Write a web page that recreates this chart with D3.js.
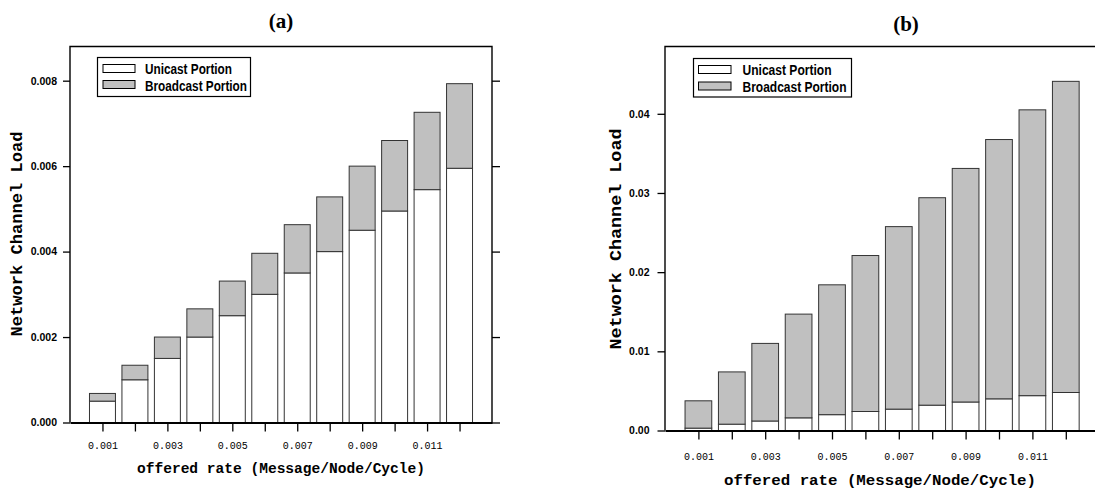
<!DOCTYPE html>
<html lang="en">
<head>
<meta charset="UTF-8">
<title>Network Channel Load</title>
<script src="https://d3js.org/d3.v7.min.js"></script>
<style>
  body { margin: 0; background: #fff; }
  svg { display: block; }
</style>
</head>
<body>
<div id="chart"></div>
<script>
// offered rates (Message/Node/Cycle)
const rates = [0.001, 0.002, 0.003, 0.004, 0.005, 0.006, 0.007, 0.008, 0.009, 0.010, 0.011, 0.012];
const xTickLabels = ["0.001", "0.003", "0.005", "0.007", "0.009", "0.011"];

// panel (a)
const unicastA   = [0.0005, 0.0010, 0.0015, 0.0020, 0.0025, 0.0030, 0.0035, 0.0040, 0.0045, 0.00495, 0.00545, 0.00595];
const broadcastA = [0.00018, 0.00034, 0.0005, 0.00066, 0.00081, 0.00096, 0.00113, 0.00128, 0.0015, 0.00165, 0.00181, 0.00198];
const yTicksA = [0, 0.002, 0.004, 0.006, 0.008];

// panel (b)
const unicastB   = [0.0003, 0.0008, 0.0012, 0.0016, 0.0020, 0.0024, 0.0027, 0.0032, 0.0036, 0.0040, 0.0044, 0.0048];
const broadcastB = [0.00345, 0.0066, 0.0098, 0.0131, 0.0164, 0.0197, 0.02305, 0.0262, 0.0295, 0.03275, 0.0361, 0.0393];
const yTicksB = [0, 0.01, 0.02, 0.03, 0.04];

const legendLabels = ["Unicast Portion", "Broadcast Portion"];

const svg = d3.select("#chart").append("svg")
    .attr("width", 1095)
    .attr("height", 490);

function drawPanel(p) {
    const x = d3.scaleLinear().domain([0, 0.013]).range([p.left, p.right]);
    const y = d3.scaleLinear().domain([0, p.yMax]).range([p.bottom, p.top]);
    const step = x(0.001) - x(0);
    const bw = step * 0.8;
    const g = svg.append("g");

    // bars: unicast at the bottom, broadcast stacked on top
    const rows = rates.map((r, i) => ({ r: r, u: p.unicast[i], b: p.broadcast[i] }));
    g.selectAll("rect.uni").data(rows).join("rect")
        .attr("class", "uni")
        .attr("x", d => x(d.r) - bw / 2)
        .attr("width", bw)
        .attr("y", d => y(d.u))
        .attr("height", d => y(0) - y(d.u))
        .attr("fill", "#fff")
        .attr("stroke", "#333")
        .attr("stroke-width", 1);
    g.selectAll("rect.bc").data(rows).join("rect")
        .attr("class", "bc")
        .attr("x", d => x(d.r) - bw / 2)
        .attr("width", bw)
        .attr("y", d => y(d.u + d.b))
        .attr("height", d => y(d.u) - y(d.u + d.b))
        .attr("fill", "#c0c0c0")
        .attr("stroke", "#333")
        .attr("stroke-width", 1);

    // frame (top, left, right)
    g.append("path")
        .attr("d", `M${p.left},${p.bottom}V${p.top}H${p.right}V${p.bottom}`)
        .attr("fill", "none")
        .attr("stroke", "#000")
        .attr("stroke-width", 1.4);

    // y axis
    const ya = g.append("g")
        .attr("transform", `translate(${p.left},0)`)
        .call(d3.axisLeft(y).tickValues(p.yTicks).tickFormat(d3.format(p.yFmt))
            .tickSize(p.yTickLen).tickPadding(p.yPad));
    ya.select(".domain").remove();
    ya.selectAll("line").attr("stroke-width", 1.3);
    ya.selectAll("text")
        .attr("font-family", "'Liberation Sans', Arial, sans-serif")
        .attr("font-weight", "bold")
        .attr("font-size", p.yFont)
        .attr("fill", "#000");

    if (p.rightTicks) {
        const yr = g.append("g")
            .attr("transform", `translate(${p.right},0)`)
            .call(d3.axisRight(y).tickValues(p.yTicks).tickFormat("").tickSize(8));
        yr.select(".domain").remove();
        yr.selectAll("line").attr("stroke-width", 1.3);
    }

    // x axis
    const xa = g.append("g")
        .attr("transform", `translate(0,${p.bottom})`)
        .call(d3.axisBottom(x).tickValues(rates)
            .tickFormat(d => {
                const s = d3.format(".3f")(d);
                return xTickLabels.includes(s) ? s : "";
            })
            .tickSize(9).tickSizeOuter(0).tickPadding(p.xPad));
    xa.select(".domain").attr("stroke-width", 2.2);
    xa.selectAll("line").attr("stroke-width", 1.3);
    xa.selectAll("text")
        .attr("font-family", "'Liberation Mono', 'Courier New', monospace")
        .attr("font-size", 10)
        .attr("fill", "#000");

    // axis titles
    g.append("text")
        .attr("x", p.xTitleX)
        .attr("y", p.xTitleY)
        .attr("text-anchor", "middle")
        .attr("font-family", "'Liberation Mono', 'Courier New', monospace")
        .attr("font-weight", "bold")
        .attr("font-size", p.xTitleFont)
        .attr("textLength", p.xTitleLen)
        .attr("lengthAdjust", "spacingAndGlyphs")
        .text("offered rate (Message/Node/Cycle)");

    g.append("text")
        .attr("transform", `translate(${p.yTitleX},${p.yTitleY}) rotate(-90)`)
        .attr("text-anchor", "middle")
        .attr("font-family", "'Liberation Mono', 'Courier New', monospace")
        .attr("font-weight", "bold")
        .attr("font-size", p.yTitleFont)
        .attr("textLength", p.yTitleLen)
        .attr("lengthAdjust", "spacingAndGlyphs")
        .text("Network Channel Load");

    // panel title
    g.append("text")
        .attr("x", p.titleX)
        .attr("y", p.titleY)
        .attr("text-anchor", "middle")
        .attr("font-family", "'Liberation Serif', 'Times New Roman', serif")
        .attr("font-weight", "bold")
        .attr("font-size", 21)
        .text(p.title);

    // legend
    const L = p.legend;
    g.append("rect")
        .attr("x", L.x).attr("y", L.y).attr("width", L.w).attr("height", L.h)
        .attr("fill", "#fff").attr("stroke", "#000").attr("stroke-width", 1.2);
    legendLabels.forEach((lab, i) => {
        g.append("rect")
            .attr("x", L.sx).attr("y", L.sy[i]).attr("width", L.sw).attr("height", L.sh)
            .attr("fill", i === 0 ? "#fff" : "#c0c0c0")
            .attr("stroke", "#000").attr("stroke-width", 1);
        g.append("text")
            .attr("x", L.tx).attr("y", L.ty[i])
            .attr("font-family", "'Liberation Sans', Arial, sans-serif")
            .attr("font-weight", "bold")
            .attr("font-size", 14)
            .attr("textLength", L.tl[i])
            .attr("lengthAdjust", "spacingAndGlyphs")
            .text(lab);
    });
}

drawPanel({
    title: "(a)", titleX: 281, titleY: 28,
    left: 70, right: 492, top: 46.5, bottom: 422.5, yMax: 0.0088,
    unicast: unicastA, broadcast: broadcastA,
    yTicks: yTicksA, yFmt: ".3f", yTickLen: 7, yPad: 6, yFont: 10.5,
    rightTicks: true, xPad: 10,
    xTitleX: 281, xTitleY: 473, xTitleFont: 14.5, xTitleLen: 288,
    yTitleX: 21.5, yTitleY: 234, yTitleFont: 16, yTitleLen: 205,
    legend: { x: 97.5, y: 57.5, w: 153, h: 39, sx: 103, sw: 32, sh: 8, sy: [64.5, 80.5],
              tx: 145, ty: [74, 90.5], tl: [87, 102] }
});

drawPanel({
    title: "(b)", titleX: 906, titleY: 31,
    left: 665, right: 665 + 13 * 33.4, top: 46.5, bottom: 430.5, yMax: 0.0485,
    unicast: unicastB, broadcast: broadcastB,
    yTicks: yTicksB, yFmt: ".2f", yTickLen: 7.5, yPad: 8, yFont: 10.5,
    rightTicks: false, xPad: 13,
    xTitleX: 880, xTitleY: 485, xTitleFont: 15.5, xTitleLen: 312,
    yTitleX: 620.5, yTitleY: 239, yTitleFont: 17, yTitleLen: 221,
    legend: { x: 693.5, y: 58.5, w: 158, h: 38.5, sx: 698.5, sw: 32.5, sh: 8, sy: [65.5, 82],
              tx: 742.5, ty: [75, 91.5], tl: [89, 104] }
});
</script>
</body>
</html>
